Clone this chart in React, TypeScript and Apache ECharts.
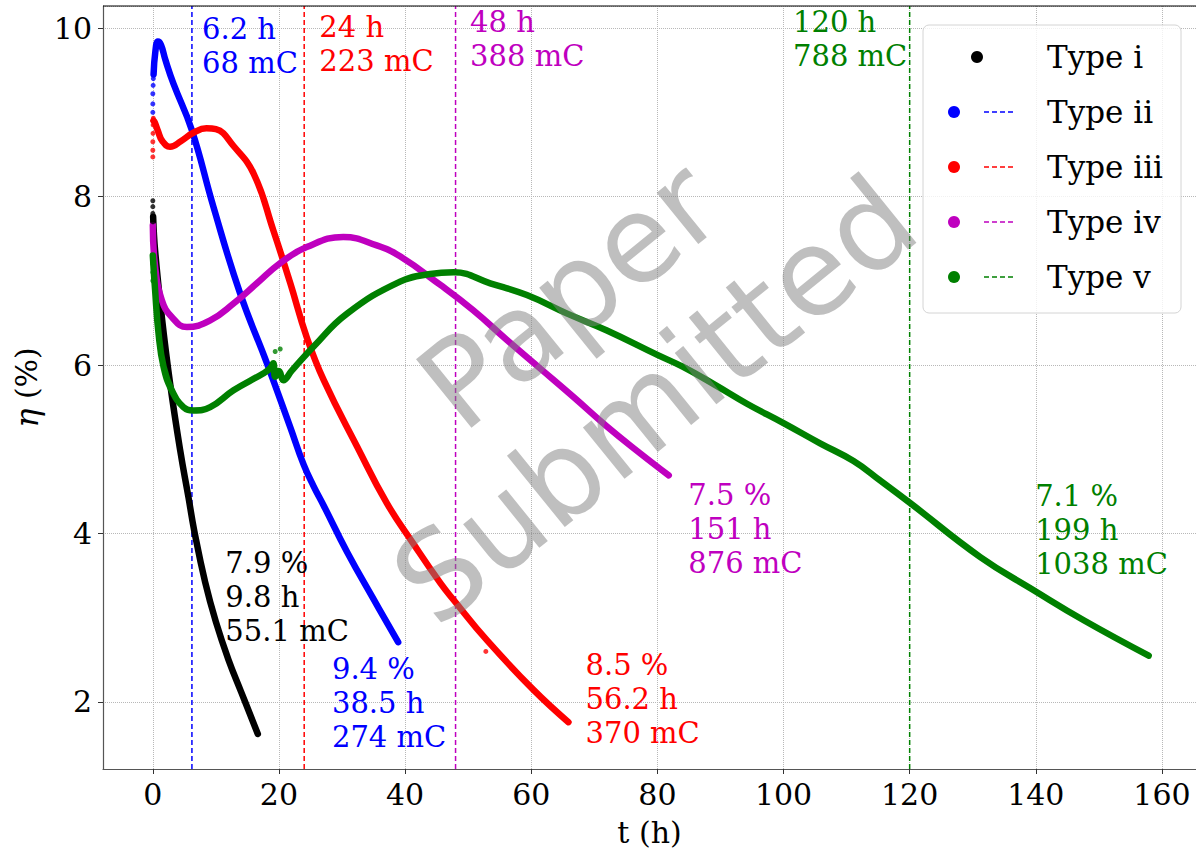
import React, { useEffect, useRef } from "react";
import * as echarts from "echarts";

// ---- data (t in h, eta in %) ----
const typeILine = [[0.05,7.76],[0.36,7.36],[1.43,6.57],[2.74,5.78],[4.33,4.99],[5.65,4.43],[6.6,4.02],[8.3,3.42],[10.0,2.95],[12.0,2.5],[14.0,2.12],[16.65,1.62]];
const typeIDots = [[0,7.95],[0,7.88],[0,7.8],[0.02,7.7]];

const typeIILine = [[0.12,9.45],[0.4,9.72],[0.8,9.84],[1.3,9.8],[2,9.62],[3.27,9.34],[6.18,8.79],[9.6,7.88],[13.84,6.85],[18.1,6.02],[21.8,5.26],[23.9,4.82],[25.5,4.56],[27.1,4.33],[30.8,3.78],[35,3.22],[38.9,2.71]];
const typeIIDots = [[0,9.0],[0,9.1],[0,9.22],[0.05,9.32],[0.08,9.4]];

const typeIIILine = [[0.1,8.9],[0.3,8.88],[0.8,8.78],[1.5,8.66],[2.74,8.59],[4.5,8.66],[6.5,8.76],[8.5,8.81],[10,8.8],[12.8,8.6],[16,8.27],[19.1,7.6],[21.8,6.97],[24.4,6.33],[27.1,5.82],[32.4,5.03],[37.1,4.36],[41.3,3.88],[45.6,3.41],[47.7,3.21],[53,2.73],[60.4,2.14],[65.9,1.76]];
const typeIIIDots = [[0,8.47],[0,8.55],[0,8.65],[0.03,8.75],[0.05,8.85],[0.08,8.93],[52.8,2.6]];

const typeIVLine = [[0,7.66],[0.36,7.17],[1.43,6.77],[3.0,6.57],[5.4,6.45],[9.1,6.53],[12.8,6.73],[16.5,6.97],[20.2,7.21],[24.4,7.4],[30.2,7.52],[35.5,7.42],[39.2,7.29],[45.6,6.95],[50.8,6.65],[56.1,6.3],[61.4,5.96],[66.7,5.62],[72,5.27],[77.3,4.95],[81.8,4.69]];
const typeIVDots = [[0,7.6],[0,7.5]];

const typeVLine = [[0,7.3],[0.36,6.89],[0.9,6.38],[1.7,5.98],[3.0,5.7],[4.85,5.5],[6.45,5.46],[9.1,5.5],[12.8,5.7],[17.5,5.9],[18.6,5.96],[19.1,6.02],[19.4,5.86],[20.0,5.93],[20.7,5.82],[22,5.93],[25.5,6.22],[30.8,6.61],[39.2,6.99],[44,7.08],[47.7,7.1],[53.5,6.97],[59.3,6.83],[65.7,6.61],[72,6.41],[80,6.12],[84,5.98],[89,5.77],[94.2,5.54],[100,5.31],[105.8,5.07],[111.1,4.86],[115.3,4.63],[120.1,4.36],[131.2,3.72],[139.6,3.33],[147.6,2.97],[157.9,2.55]];
const typeVDots = [[0,7.0],[0,7.1],[0,7.2],[0,7.28],[19.4,6.16],[20.2,6.19]];

const typeNames = ["Type i", "Type ii", "Type iii", "Type iv", "Type v"];
const typeColors = ["#000000", "#0000ff", "#ff0000", "#bf00bf", "#008000"];

const markerTimes = [6.2, 24, 48, 120]; // dashed verticals for types ii..v
const markerColors = ["#0000ff", "#ff0000", "#bf00bf", "#008000"];

const topNotes = [
  { t: 7.8, y: 10.19, color: "#0000ff", lines: ["6.2 h", "68 mC"] },
  { t: 26.4, y: 10.21, color: "#ff0000", lines: ["24 h", "223 mC"] },
  { t: 50.3, y: 10.27, color: "#bf00bf", lines: ["48 h", "388 mC"] },
  { t: 101.5, y: 10.27, color: "#008000", lines: ["120 h", "788 mC"] },
];
const endNotes = [
  { t: 11.5, y: 3.85, color: "#000000", lines: ["7.9 %", "9.8 h", "55.1 mC"] },
  { t: 28.4, y: 2.59, color: "#0000ff", lines: ["9.4 %", "38.5 h", "274 mC"] },
  { t: 68.6, y: 2.64, color: "#ff0000", lines: ["8.5 %", "56.2 h", "370 mC"] },
  { t: 84.9, y: 4.66, color: "#bf00bf", lines: ["7.5 %", "151 h", "876 mC"] },
  { t: 139.9, y: 4.65, color: "#008000", lines: ["7.1 %", "199 h", "1038 mC"] },
];

const X_MIN = -7.9, X_MAX = 165.4;
const Y_MIN = 1.204, Y_MAX = 10.262;

const FONT = "DejaVu Serif";

export default function App() {
  const ref = useRef<HTMLDivElement>(null);
  useEffect(() => {
    const chart = echarts.init(ref.current!, null, { renderer: "svg" });
    const lines = [typeILine, typeIILine, typeIIILine, typeIVLine, typeVLine];
    const dots = [typeIDots, typeIIDots, typeIIIDots, typeIVDots, typeVDots];
    const series: any[] = [];
    markerTimes.forEach((t, i) => {
      series.push({
        type: "line", data: [[t, Y_MIN], [t, Y_MAX]], symbol: "none", silent: true, z: 1,
        lineStyle: { color: markerColors[i], width: 1.5, type: [5, 3] },
      });
    });
    lines.forEach((d, i) => {
      series.push({
        type: "line", name: typeNames[i], data: d, smooth: 0.45, symbol: "none", z: 2,
        lineStyle: { color: typeColors[i], width: 6.5, cap: "round", join: "round" },
      });
      series.push({
        type: "scatter", data: dots[i], symbolSize: 5, z: 2,
        itemStyle: { color: typeColors[i] },
      });
    });

    const isTick = (v: number, step: number) => Math.abs(v / step - Math.round(v / step)) < 1e-6;

    chart.setOption({
      animation: false,
      backgroundColor: "#ffffff",
      grid: { left: 103, right: 0, top: 6, bottom: 83 },
      xAxis: {
        type: "value", min: X_MIN, max: X_MAX, splitNumber: 8, minInterval: 20, maxInterval: 20,
        name: "t (h)", nameLocation: "middle", nameGap: 48,
        nameTextStyle: { fontFamily: FONT, fontSize: 30, color: "#000" },
        axisLine: { onZero: false, lineStyle: { color: "#555", width: 1.2 } },
        axisTick: { show: true, length: 5, lineStyle: { color: "#333" } },
        axisLabel: {
          fontFamily: FONT, fontSize: 30, color: "#000", margin: 10,
          showMinLabel: false, showMaxLabel: false,
          formatter: (v: number) => (isTick(v, 20) ? String(Math.round(v)) : ""),
        },
        splitLine: { show: true, lineStyle: { color: "#b8b8b8", type: "dotted", width: 1 } },
      },
      yAxis: {
        type: "value", min: Y_MIN, max: Y_MAX, splitNumber: 5, minInterval: 2, maxInterval: 2,
        name: "{i|η} (%)", nameLocation: "middle", nameGap: 58,
        nameTextStyle: {
          fontFamily: FONT, fontSize: 30, color: "#000",
          rich: { i: { fontFamily: FONT, fontSize: 32, fontStyle: "italic", color: "#000" } },
        },
        axisLine: { show: true, onZero: false, lineStyle: { color: "#555", width: 1.2 } },
        axisTick: { show: true, length: 5, lineStyle: { color: "#333" } },
        axisLabel: {
          fontFamily: FONT, fontSize: 30, color: "#000", margin: 11,
          showMinLabel: false, showMaxLabel: false,
          formatter: (v: number) => (isTick(v, 2) ? String(Math.round(v)) : ""),
        },
        splitLine: { show: true, lineStyle: { color: "#b8b8b8", type: "dotted", width: 1 } },
      },
      series,
    });

    const graphics: any[] = [];
    graphics.push({
      type: "line", shape: { x1: 103, y1: 6, x2: 1196, y2: 6 },
      style: { stroke: "#000", lineWidth: 1.2 }, z: 50,
    });
    [...topNotes, ...endNotes].forEach((a) => {
      const p = chart.convertToPixel({ gridIndex: 0 }, [a.t, a.y]) as number[];
      graphics.push({
        type: "text", x: p[0], y: p[1], z: 60,
        style: {
          text: a.lines.join("\n"), fill: a.color, fontFamily: FONT, fontSize: 29, lineHeight: 34,
          align: "left", verticalAlign: "top", textAlign: "left", textVerticalAlign: "top",
        },
      });
    });
    // legend
    graphics.push({
      type: "rect", z: 70,
      shape: { x: 923, y: 25, width: 258, height: 288, r: 6 },
      style: { fill: "rgba(255,255,255,0.8)", stroke: "#d4d4d4", lineWidth: 1 },
    });
    typeNames.forEach((n, i) => {
      const cy = 57 + i * 55;
      if (i === 0) {
        graphics.push({ type: "circle", z: 71, shape: { cx: 977, cy, r: 6 }, style: { fill: typeColors[i] } });
      } else {
        graphics.push({ type: "circle", z: 71, shape: { cx: 954, cy, r: 6 }, style: { fill: typeColors[i] } });
        graphics.push({
          type: "line", z: 71, shape: { x1: 984, y1: cy, x2: 1015, y2: cy },
          style: { stroke: markerColors[i - 1], lineWidth: 1.5, lineDash: [5, 3] },
        });
      }
      graphics.push({
        type: "text", z: 71, x: 1047, y: cy,
        style: {
          text: n, fill: "#000", fontFamily: FONT, fontSize: 31,
          align: "left", verticalAlign: "middle", textAlign: "left", textVerticalAlign: "middle",
        },
      });
    });
    // watermark
    graphics.push({
      type: "text", z: 100, x: 612, y: 348, rotation: (39 * Math.PI) / 180,
      style: {
        text: "Paper\nSubmitted", fill: "rgba(128,128,128,0.5)", fontFamily: "DejaVu Sans", fontSize: 121,
        lineHeight: 136, align: "center", verticalAlign: "middle", textAlign: "center", textVerticalAlign: "middle",
      },
    });
    chart.setOption({ graphic: graphics });

    return () => chart.dispose();
  }, []);
  return <div ref={ref} style={{ position: "absolute", left: 0, top: 0, width: 1196, height: 852 }} />;
}
